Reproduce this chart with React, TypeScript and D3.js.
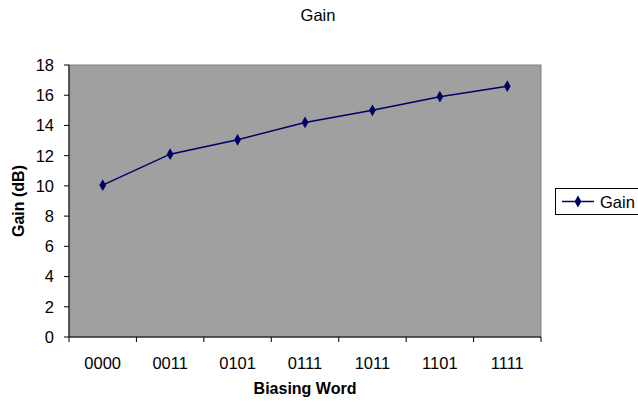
import React from "react";
import * as d3 from "d3";

const categories = ["0000", "0011", "0101", "0111", "1011", "1101", "1111"];
const gainValues = [10.05, 12.1, 13.05, 14.2, 15.0, 15.9, 16.6];
const yTicks = [0, 2, 4, 6, 8, 10, 12, 14, 16, 18];
const seriesName = "Gain";
const chartTitle = "Gain";
const xTitle = "Biasing Word";
const yTitle = "Gain (dB)";

const W = 638;
const H = 402;
const plot = { left: 69, right: 541, top: 65, bottom: 337 };
const font = "Arial, 'Liberation Sans', sans-serif";
const lineColor = "#000066";
const fs = 16.5;

export default function App() {
  const x = d3
    .scaleBand<string>()
    .domain(categories)
    .range([plot.left, plot.right])
    .paddingInner(0)
    .paddingOuter(0);
  const y = d3.scaleLinear().domain([0, 18]).range([plot.bottom, plot.top]);
  const cx = (c: string) => (x(c) as number) + x.bandwidth() / 2;

  const line = d3
    .line<number>()
    .x((_, i) => cx(categories[i]))
    .y((d) => y(d));

  const diamond = d3.symbol().type(d3.symbolDiamond).size(40)();

  const xTickPos = categories.map((c) => x(c) as number).concat([plot.right]);

  return (
    <svg
      width={W}
      height={H}
      style={{ position: "absolute", left: 0, top: 0 }}
      fontFamily={font}
    >
      <rect x={0} y={0} width={W} height={H} fill="#fff" />
      <text x={318} y={21} textAnchor="middle" fontSize={16.5} fill="#000">
        {chartTitle}
      </text>
      <rect
        x={plot.left}
        y={plot.top}
        width={plot.right - plot.left}
        height={plot.bottom - plot.top}
        fill="#a0a0a0"
        stroke="#808080"
        strokeWidth={1}
      />
      {/* y axis */}
      <line x1={plot.left} x2={plot.left} y1={plot.top} y2={plot.bottom} stroke="#000" />
      {yTicks.map((t) => (
        <g key={t}>
          <line x1={plot.left - 5} x2={plot.left} y1={y(t)} y2={y(t)} stroke="#000" />
          <text
            x={54}
            y={y(t)}
            dy="0.36em"
            textAnchor="end"
            fontSize={fs}
            fill="#000"
          >
            {t}
          </text>
        </g>
      ))}
      {/* x axis */}
      <line x1={plot.left} x2={plot.right} y1={plot.bottom} y2={plot.bottom} stroke="#000" />
      {xTickPos.map((p, i) => (
        <line key={i} x1={p} x2={p} y1={plot.bottom} y2={plot.bottom + 5} stroke="#000" />
      ))}
      {categories.map((c) => (
        <text key={c} x={cx(c)} y={369} textAnchor="middle" fontSize={fs} fill="#000">
          {c}
        </text>
      ))}
      <text x={305} y={394} textAnchor="middle" fontSize={16} fontWeight="bold" fill="#000">
        {xTitle}
      </text>
      <text
        transform={`translate(24,201) rotate(-90)`}
        textAnchor="middle"
        fontSize={16}
        fontWeight="bold"
        fill="#000"
      >
        {yTitle}
      </text>
      {/* series */}
      <path d={line(gainValues) || ""} fill="none" stroke={lineColor} strokeWidth={1.5} />
      {gainValues.map((v, i) => (
        <path
          key={i}
          d={diamond || ""}
          transform={`translate(${cx(categories[i])},${y(v)})`}
          fill={lineColor}
        />
      ))}
      {/* legend */}
      <rect x={555.5} y={188.5} width={90} height={26} fill="#fff" stroke="#000" />
      <line x1={562} x2={594} y1={201.5} y2={201.5} stroke={lineColor} strokeWidth={1.5} />
      <path d={diamond || ""} transform="translate(578,201.5)" fill={lineColor} />
      <text x={600} y={207.5} fontSize={fs} fill="#000">
        {seriesName}
      </text>
    </svg>
  );
}
